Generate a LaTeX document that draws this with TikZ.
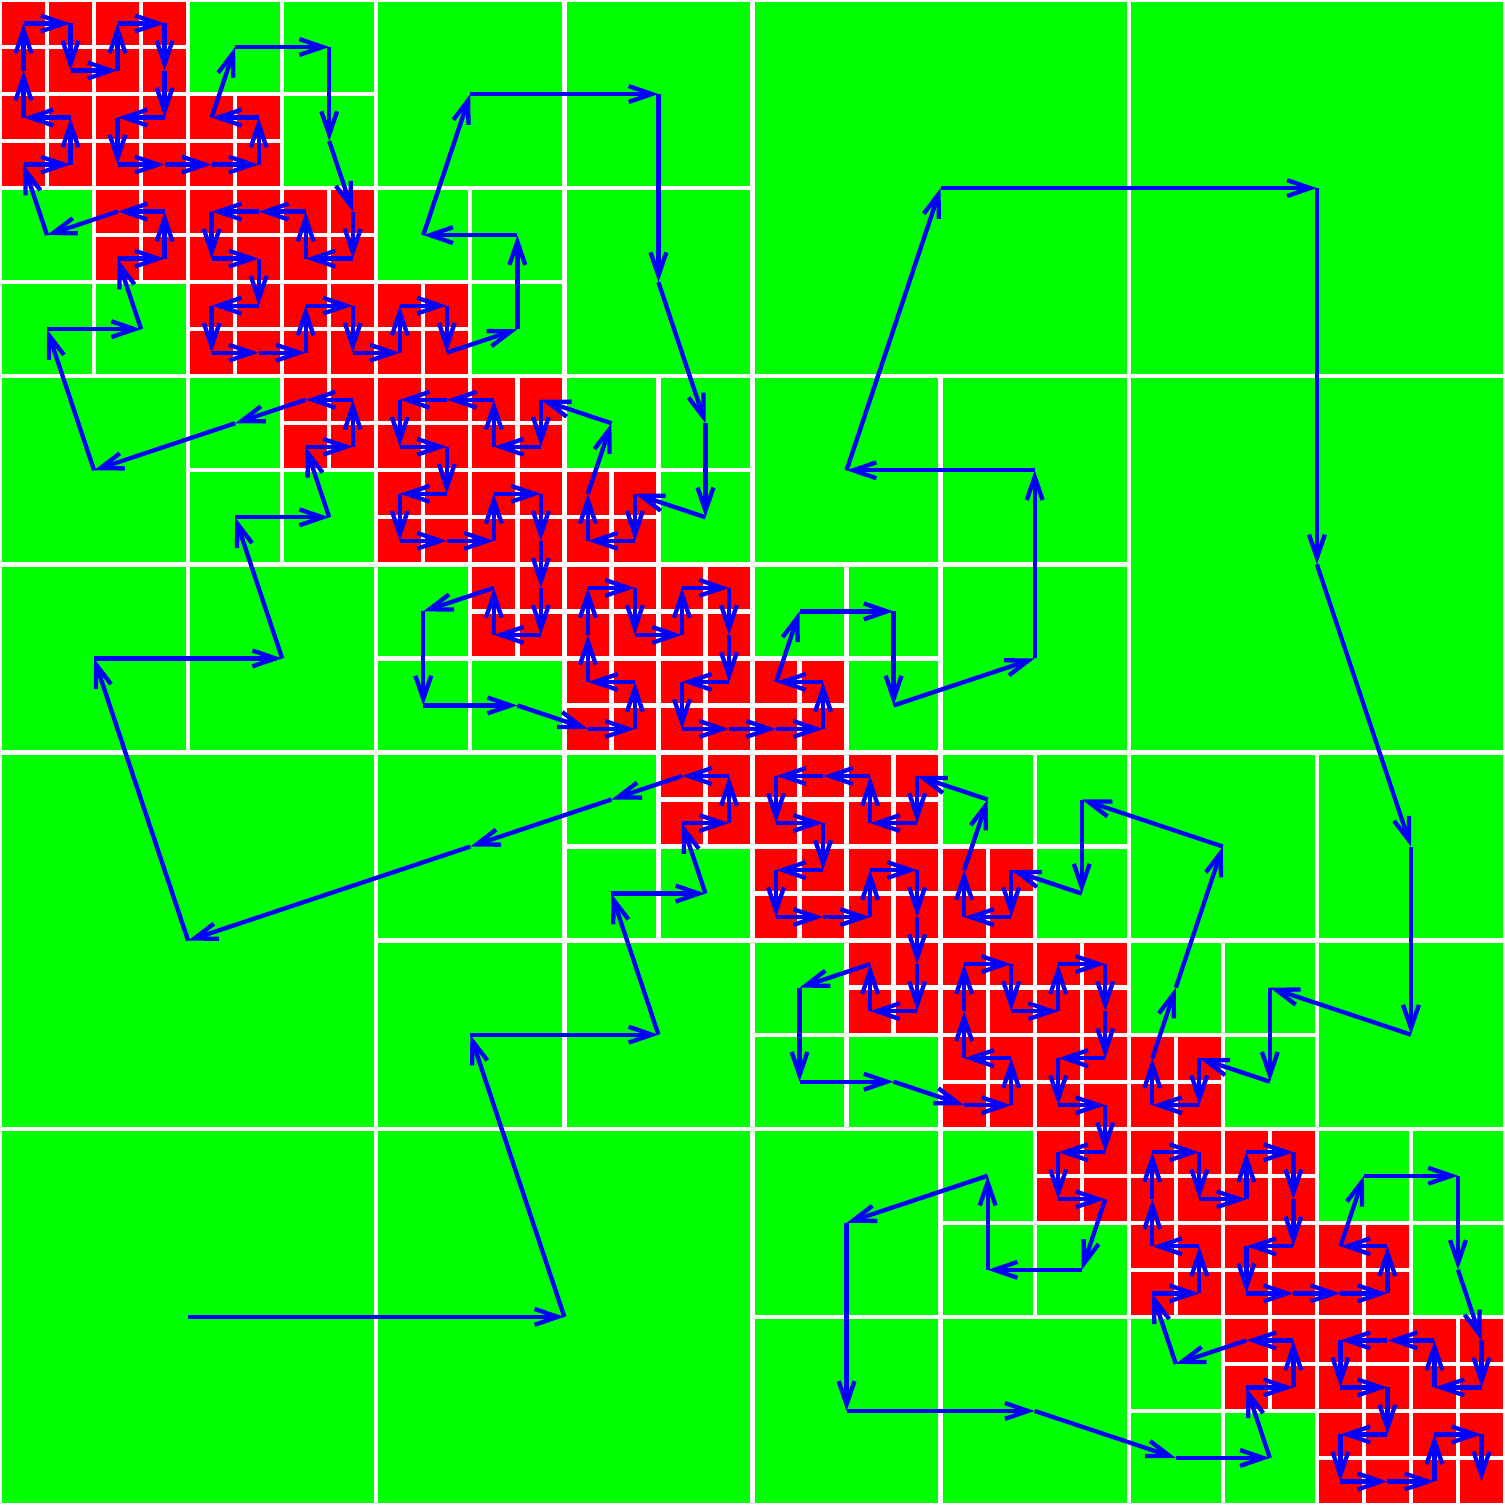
\documentclass[tikz,border=0pt]{standalone}
\usepackage{tikz}
\usetikzlibrary{arrows.meta}

\newcount\hilbn
% #1,#2 corner, #3,#4 first side, #5,#6 second side, #7 levels left
\newcommand\hilbcell[7]{%
  \begingroup
  \edef\hs{\fpeval{abs((#3)+(#5))}}%
  \edef\hcx{\fpeval{(#1)+((#3)+(#5))/2}}%
  \edef\hcy{\fpeval{(#2)+((#4)+(#6))/2}}%
  \ifnum\fpeval{(#7>0) && (abs(\hcx+\hcy-16) <= \hs+0.001)}=1 %
    \edef\hnext{%
      \noexpand\hilbcell{#1}{#2}{\fpeval{(#5)/2}}{\fpeval{(#6)/2}}{\fpeval{(#3)/2}}{\fpeval{(#4)/2}}{\the\numexpr#7-1\relax}%
      \noexpand\hilbcell{\fpeval{(#1)+(#3)/2}}{\fpeval{(#2)+(#4)/2}}{\fpeval{(#3)/2}}{\fpeval{(#4)/2}}{\fpeval{(#5)/2}}{\fpeval{(#6)/2}}{\the\numexpr#7-1\relax}%
      \noexpand\hilbcell{\fpeval{(#1)+((#3)+(#5))/2}}{\fpeval{(#2)+((#4)+(#6))/2}}{\fpeval{(#3)/2}}{\fpeval{(#4)/2}}{\fpeval{(#5)/2}}{\fpeval{(#6)/2}}{\the\numexpr#7-1\relax}%
      \noexpand\hilbcell{\fpeval{(#1)+(#3)/2+(#5)}}{\fpeval{(#2)+(#4)/2+(#6)}}{\fpeval{-(#5)/2}}{\fpeval{-(#6)/2}}{\fpeval{-(#3)/2}}{\fpeval{-(#4)/2}}{\the\numexpr#7-1\relax}%
    }%
    \hnext
  \else
    \global\advance\hilbn by 1
    \ifnum#7=0
      \path[finecell] (#1,#2) rectangle ++(\fpeval{(#3)+(#5)},\fpeval{(#4)+(#6)});
    \else
      \path[coarsecell] (#1,#2) rectangle ++(\fpeval{(#3)+(#5)},\fpeval{(#4)+(#6)});
    \fi
    \coordinate (p\the\hilbn) at (\hcx,\hcy);
  \fi
  \endgroup}

\begin{document}
\begin{tikzpicture}[
    cell/.style={draw=white, line width=1.3pt},
    finecell/.style={cell, fill=red},
    coarsecell/.style={cell, fill=green},
    hilbarrow/.style={blue, line width=1.3pt, -{Straight Barb[length=7pt,width=4.8pt]}}]
    \useasboundingbox (0,0) rectangle (16,16);
    % quadtree cells, numbered along the curve
    \hilbcell{0}{0}{0}{16}{16}{0}{5}
    \edef\hilbtotal{\the\hilbn}
    % the curve
    \foreach \i [remember=\i as \j (initially 1)] in {2,...,\hilbtotal}
        \draw[hilbarrow] (p\j) -- (p\i);
\end{tikzpicture}
\end{document}
